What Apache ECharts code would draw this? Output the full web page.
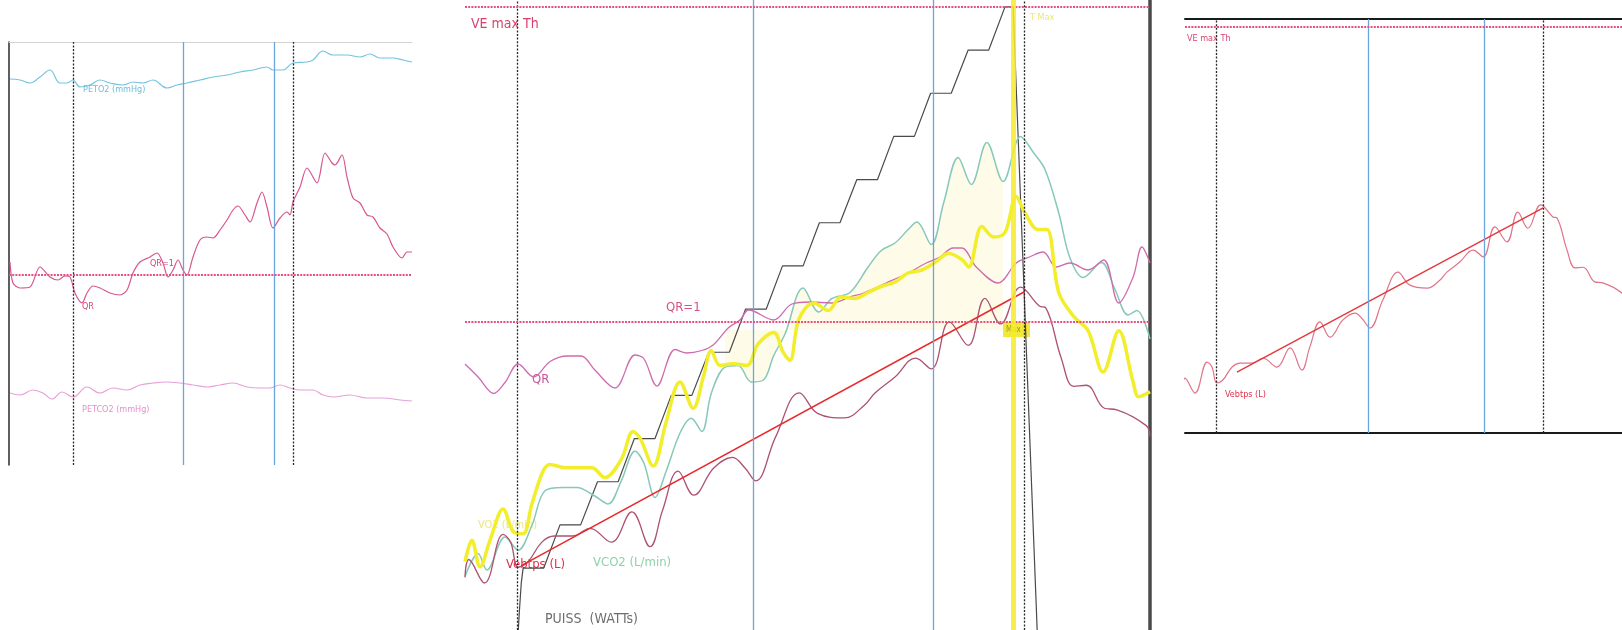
<!DOCTYPE html>
<html>
<head>
<meta charset="utf-8">
<script src="https://cdn.jsdelivr.net/npm/echarts@6/dist/echarts.min.js"></script>
<style>
  html, body { margin: 0; padding: 0; background: #ffffff; }
  #chart { width: 1622px; height: 630px; }
</style>
</head>
<body>
<div id="chart"></div>
<script>
// ---------- Left panel: gas exchange (time in s) ----------
const leftPetO2 = [[2.5,105.4],[27.5,105.0],[52.5,103.8],[77.5,106.2],[102.5,109.0],[127.5,103.8],[145,103.8],[160,105.0],[177.5,102.2],[202.5,103.0],[227.5,105.0],[252.5,103.8],[285,103.0],[310,104.2],[335,103.8],[360,105.0],[395,101.8],[420,103.0],[445,103.8],[477.5,105.0],[510,106.2],[545,107.0],[577.5,108.2],[610,109.0],[645,110.2],[660,109.0],[685,109.0],[710,111.8],[745,112.2],[760,113.0],[785,116.6],[810,115.0],[845,115.0],[877.5,114.2],[902.5,115.4],[927.5,113.8],[960,113.8],[985,113.0],[1007.5,112.2]];
const leftQR = [[2.5,1.026],[10,0.984],[27.5,0.974],[52.5,0.976],[77.5,1.016],[102.5,0.996],[122.5,0.990],[140,0.998],[152.5,0.996],[165,0.964],[182.5,0.944],[195,0.964],[210,0.978],[227.5,0.974],[252.5,0.964],[277.5,0.960],[295,0.970],[310,1.004],[327.5,1.026],[352.5,1.036],[370,1.044],[385,1.024],[397.5,0.996],[410,1.010],[422.5,1.030],[435,1.010],[445,1.000],[460,1.036],[477.5,1.070],[495,1.076],[510,1.074],[527.5,1.090],[545,1.110],[560,1.130],[572.5,1.138],[590,1.120],[602.5,1.106],[620,1.144],[632.5,1.166],[645,1.136],[660,1.094],[677.5,1.114],[695,1.126],[702.5,1.120],[710,1.146],[727.5,1.176],[745,1.214],[770,1.184],[790,1.244],[807.5,1.224],[815,1.220],[832.5,1.240],[845,1.196],[860,1.154],[877.5,1.144],[895,1.120],[910,1.116],[927.5,1.094],[945,1.082],[960,1.056],[982.5,1.034],[995,1.046],[1007.5,1.046]];
const leftPetCO2 = [[2.5,38.8],[27.5,38.0],[60,40.0],[85,38.8],[107.5,36.4],[132.5,39.2],[160,37.2],[195,41.2],[227.5,38.8],[260,40.8],[295,40.0],[327.5,42.0],[360,42.8],[395,43.2],[427.5,42.8],[460,42.0],[495,41.2],[527.5,42.0],[560,42.8],[595,41.2],[627.5,40.8],[652.5,40.8],[677.5,42.0],[702.5,40.8],[727.5,40.0],[760,40.0],[785,38.0],[810,37.2],[852.5,38.0],[895,36.8],[935,36.8],[977.5,36.0],[1007.5,35.6]];
const leftDashed = [160, 710];
const leftBlue = [435, 662.5];

// ---------- Exercise test (time in s) ----------
const powerW = [[83,0],[87,20],[90,33],[93,40],[126,40],[152,60],[185,60],[212,80],[245,80],[271,100],[304,100],[330,120],[363,120],[390,140],[423,140],[449,160],[482,160],[508,180],[541,180],[567,200],[600,200],[627,220],[660,220],[686,240],[719,240],[745,260],[778,260],[805,280],[838,280],[864,300],[877,300],[917,0]];
const vo2 = [[0,0.455],[11,0.598],[24,0.422],[40,0.598],[61,0.807],[78,0.653],[93,0.642],[107,0.840],[125,1.060],[136,1.104],[160,1.082],[184,1.082],[203,1.082],[224,1.016],[250,1.137],[269,1.324],[280,1.280],[301,1.093],[322,1.390],[344,1.654],[365,1.478],[382,1.698],[394,1.863],[408,1.764],[429,1.775],[451,1.764],[469,1.907],[494,1.984],[509,1.852],[520,1.797],[534,2.07],[558,2.18],[581,2.13],[602,2.22],[624,2.21],[645,2.25],[666,2.29],[688,2.32],[709,2.38],[731,2.40],[752,2.45],[774,2.51],[795,2.47],[806,2.42],[827,2.69],[846,2.62],[864,2.65],[882,2.89],[896,2.78],[917,2.67],[931,2.67],[950,2.25],[974,2.09],[997,1.995],[1021,1.720],[1046,1.995],[1069,1.654],[1078,1.555],[1096,1.588]];
const vco2 = [[0,0.356],[21,0.510],[35,0.400],[64,0.620],[85,0.532],[107,0.697],[128,0.928],[157,0.950],[179,0.950],[207,0.895],[229,0.840],[250,0.994],[272,1.192],[286,1.115],[304,0.884],[322,1.060],[344,1.313],[362,1.412],[379,1.324],[394,1.577],[416,1.753],[437,1.764],[458,1.654],[477,1.665],[494,1.830],[512,1.973],[541,2.28],[566,2.12],[587,2.21],[616,2.25],[645,2.42],[666,2.53],[688,2.58],[709,2.67],[723,2.72],[746,2.57],[766,2.85],[789,3.15],[810,2.97],[835,3.25],[861,2.99],[889,3.29],[910,3.18],[928,3.07],[950,2.78],[968,2.48],[989,2.35],[1018,2.45],[1040,2.27],[1061,2.10],[1075,2.13],[1096,1.940]];
const qrTest = [[0,0.916],[21,0.890],[46,0.857],[64,0.879],[85,0.916],[110,0.890],[136,0.921],[164,0.932],[186,0.932],[207,0.905],[240,0.868],[272,0.934],[286,0.927],[307,0.872],[336,0.945],[354,0.938],[379,0.943],[397,0.954],[422,0.989],[440,1.004],[454,1.024],[494,1.004],[523,1.036],[552,1.040],[587,1.038],[616,1.050],[638,1.058],[674,1.078],[709,1.098],[738,1.118],[760,1.130],[781,1.148],[795,1.148],[818,1.110],[853,1.078],[882,1.118],[903,1.130],[925,1.140],[946,1.110],[968,1.118],[997,1.104],[1022,1.124],[1046,1.038],[1069,1.090],[1083,1.150],[1096,1.118]];
const vebtps = [[0,13.4],[6,16.9],[31,12.3],[61,21.8],[73,20.3],[85,15.4],[100,16.3],[123,20.3],[143,21.5],[172,21.5],[200,23.0],[234,20.3],[267,26.2],[296,19.4],[316,26.5],[341,34.2],[366,29.5],[398,34.8],[428,36.9],[448,34.8],[465,32.3],[497,40.9],[535,49.5],[564,45.5],[607,44.6],[639,47.1],[656,49.5],[688,52.6],[721,56.3],[746,54.2],[775,63.4],[805,58.8],[832,68.0],[857,63.0],[889,70.2],[919,66.5],[929,66.2],[954,56.3],[974,50.8],[994,51.0],[1023,46.5],[1043,46.2],[1090,43.1],[1096,41.0]];
const vebtpsFit = [[90,15.7],[895,69.3]];
const vebtpsFitZoom = [[135,18.7],[895,69.3]];
const testDashed = [83, 894];
const testBlue = [461, 749];
const tMax = 877;
const veMaxTh = 125;
const qrOne = 1;
const excessStart = 416;

// ---------- styling helpers ----------
const FONT = "'Liberation Sans Narrow','DejaVu Sans Condensed','Arial Narrow',sans-serif";
const dashedStyle = { color: '#262626', width: 1.3, type: [2, 1.6] };
const blueStyle = { color: '#6aa6de', width: 1.3, type: 'solid' };
const pinkDotted = { color: '#e4507f', width: 1.8, type: [2, 1.2] };

function vLines(dashed, blue) {
  return dashed.map(t => ({ xAxis: t, lineStyle: dashedStyle }))
    .concat(blue.map(t => ({ xAxis: t, lineStyle: blueStyle })));
}
function ml(data) {
  return { symbol: 'none', silent: true, animation: false, label: { show: false }, data: data };
}
function hiddenY(grid, min, max) {
  return { type: 'value', gridIndex: grid, min: min, max: max, show: false };
}
function txt(x, y, text, color, size) {
  return { type: 'text', x: x, y: y, silent: true,
    style: { text: text, fill: color, font: size + 'px ' + FONT, verticalAlign: 'middle' } };
}
const lineOnly = (extra) => Object.assign({ type: 'line', showSymbol: false, animation: false, silent: true }, extra);
const noAxisBits = { axisTick: { show: false }, axisLabel: { show: false }, splitLine: { show: false } };

const option = {
  backgroundColor: '#ffffff',
  animation: false,
  grid: [
    { left: 9, top: 42, width: 403, height: 423, outerBoundsMode: 'none', containLabel: false },
    { left: 465, top: 0, width: 685, height: 630, outerBoundsMode: 'none', containLabel: false },
    { left: 1185, top: 19, width: 437, height: 414, outerBoundsMode: 'none', containLabel: false }
  ],
  xAxis: [
    { type: 'value', gridIndex: 0, min: 0, max: 1007.5, show: false },
    Object.assign({ type: 'value', gridIndex: 0, position: 'top', min: 0, max: 1,
      axisLine: { show: true, onZero: false, lineStyle: { color: '#d4d4d4', width: 1 } } }, noAxisBits),
    { type: 'value', gridIndex: 1, min: 0, max: 1096, show: false },
    Object.assign({ type: 'value', gridIndex: 2, position: 'bottom', min: 6.1, max: 1090.5,
      axisLine: { show: true, onZero: false, lineStyle: { color: '#1a1a1a', width: 2 } } }, noAxisBits),
    Object.assign({ type: 'value', gridIndex: 2, position: 'top', min: 0, max: 1,
      axisLine: { show: true, onZero: false, lineStyle: { color: '#1a1a1a', width: 2 } } }, noAxisBits)
  ],
  yAxis: [
    Object.assign({ type: 'value', gridIndex: 0, position: 'left', min: 0.62, max: 1.466,
      axisLine: { show: true, onZero: false, lineStyle: { color: '#2a2a2a', width: 1.5 } } }, noAxisBits),
    hiddenY(0, -49, 120.2),
    hiddenY(0, 10, 179.2),
    hiddenY(1, 3.1, 126.4),
    hiddenY(1, 0, 4.2),
    hiddenY(1, 0.384, 1.644),
    hiddenY(1, 11.3, 303.2),
    Object.assign({ type: 'value', gridIndex: 1, position: 'right', min: 0, max: 1,
      axisLine: { show: true, onZero: false, lineStyle: { color: '#4a4a4a', width: 3.5 } } }, noAxisBits),
    hiddenY(2, 0, 127.4)
  ],
  series: [
    // left panel
    lineOnly({ name: 'PETO2 (mmHg)', xAxisIndex: 0, yAxisIndex: 1, data: leftPetO2, smooth: 0.4,
      lineStyle: { color: '#74c4de', width: 1.2 } }),
    lineOnly({ name: 'PETCO2 (mmHg)', xAxisIndex: 0, yAxisIndex: 2, data: leftPetCO2, smooth: 0.4,
      lineStyle: { color: '#e6a2d8', width: 1.2 } }),
    lineOnly({ name: 'QR', xAxisIndex: 0, yAxisIndex: 0, data: leftQR, smooth: 0.3,
      lineStyle: { color: '#d85590', width: 1.2 },
      markLine: ml(vLines(leftDashed, leftBlue).concat([{ yAxis: qrOne, lineStyle: pinkDotted }])) }),

    // middle panel
    lineOnly({ name: 'excess', xAxisIndex: 2, yAxisIndex: 4,
      data: vco2.filter(p => p[0] >= excessStart && p[0] <= tMax), smooth: 0.3,
      lineStyle: { width: 0 }, areaStyle: { color: 'rgba(250,244,170,0.38)', origin: 2.0 } }),
    lineOnly({ name: 'PUISS (WATTs)', xAxisIndex: 2, yAxisIndex: 6, data: powerW,
      lineStyle: { color: '#4a4a4a', width: 1.2 } }),
    lineOnly({ name: 'VCO2 (L/min)', xAxisIndex: 2, yAxisIndex: 4, data: vco2, smooth: 0.35,
      lineStyle: { color: '#86c8ba', width: 1.5 } }),
    lineOnly({ name: 'Vebtps (L)', xAxisIndex: 2, yAxisIndex: 3, data: vebtps, smooth: 0.4,
      lineStyle: { color: '#ad5270', width: 1.3 },
      markLine: ml(vLines(testDashed, testBlue).concat([{ yAxis: veMaxTh, lineStyle: pinkDotted }])) }),
    lineOnly({ name: 'QR', xAxisIndex: 2, yAxisIndex: 5, data: qrTest, smooth: 0.35,
      lineStyle: { color: '#cf6cae', width: 1.3 },
      markLine: ml([{ yAxis: qrOne, lineStyle: pinkDotted }]) }),
    lineOnly({ name: 'Vebtps fit', xAxisIndex: 2, yAxisIndex: 3, data: vebtpsFit,
      lineStyle: { color: '#e8282c', width: 1.5 } }),
    lineOnly({ name: 'VO2 (L/min)', xAxisIndex: 2, yAxisIndex: 4, data: vo2, smooth: 0.35,
      lineStyle: { color: '#f2ee2c', width: 3.5 },
      markLine: ml([{ xAxis: tMax, lineStyle: { color: 'rgba(246,236,40,0.85)', width: 5, type: 'solid' } }]) }),

    // right panel
    lineOnly({ name: 'Vebtps (L)', xAxisIndex: 3, yAxisIndex: 8, data: vebtps, smooth: 0.4,
      lineStyle: { color: '#e07588', width: 1.2 },
      markLine: ml(vLines(testDashed, testBlue).concat([{ yAxis: veMaxTh, lineStyle: pinkDotted }])) }),
    lineOnly({ name: 'Vebtps fit', xAxisIndex: 3, yAxisIndex: 8, data: vebtpsFitZoom,
      lineStyle: { color: '#e3383c', width: 1.4 } })
  ],
  graphic: [
    // left panel captions
    txt(83, 90, 'PETO2 (mmHg)', '#6cc0dc', 9),
    txt(150, 264, 'QR=1', '#d2467e', 9),
    txt(82, 307, 'QR', '#d2467e', 9),
    txt(82, 410, 'PETCO2 (mmHg)', '#e290cf', 9),
    // middle panel captions
    txt(471, 24, 'VE max Th', '#d9426f', 14),
    txt(666, 308, 'QR=1', '#d6508a', 13),
    txt(532, 380, 'QR', '#c8559a', 13),
    txt(478, 525, 'VO2 (L/min)', '#ece87a', 11),
    txt(506, 565, 'Vebtps (L)', '#e0304a', 13),
    txt(593, 563, 'VCO2 (L/min)', '#8dd2a8', 13),
    txt(545, 619, 'PUISS  (WATTs)', '#6e6e6e', 14),
    txt(1030, 18, 'T Max', '#ece870', 9),
    { type: 'rect', shape: { x: 1003, y: 322, width: 27, height: 15 }, silent: true,
      style: { fill: '#f1e83a' } },
    txt(1006, 330, 'Max', '#a69c10', 8),
    // right panel captions
    txt(1187, 39, 'VE max Th', '#d9426f', 9),
    txt(1225, 395, 'Vebtps (L)', '#e0304a', 9)
  ]
};

const chart = echarts.init(document.getElementById('chart'), null, { renderer: 'canvas' });
chart.setOption(option);
</script>
</body>
</html>
